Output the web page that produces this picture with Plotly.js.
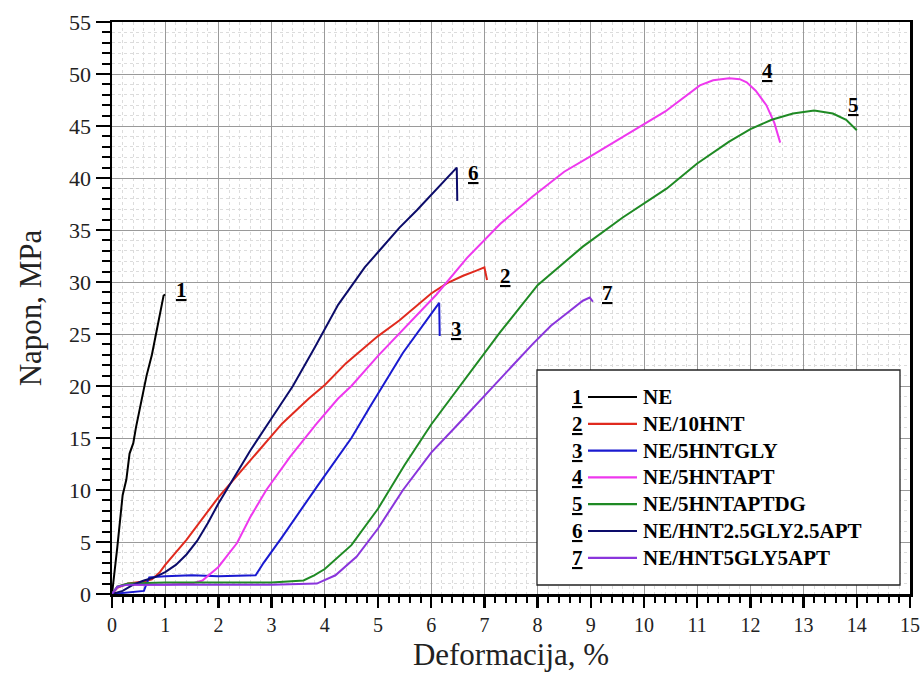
<!DOCTYPE html>
<html>
<head>
<meta charset="utf-8">
<script src="https://cdn.plot.ly/plotly-3.0.1.min.js"></script>
<style>html,body{margin:0;padding:0;background:#fff;}#chart{width:924px;height:677px;}</style>
</head>
<body>
<div id="chart"></div>
<script>
// ---- Data (strain %, stress MPa) ----
const names = ["NE", "NE/10HNT", "NE/5HNTGLY", "NE/5HNTAPT", "NE/5HNTAPTDG", "NE/HNT2.5GLY2.5APT", "NE/HNT5GLY5APT"];
const numbers = ["1", "2", "3", "4", "5", "6", "7"];
const colors = ["#000000", "#e02a1e", "#1a1ad0", "#ee38ee", "#1f8a24", "#0c0c6a", "#8a35dc"];

const ne_x = [0, 0.05, 0.1, 0.15, 0.2, 0.27, 0.33, 0.4, 0.45, 0.55, 0.65, 0.75, 0.85, 0.92, 0.97, 1.0];
const ne_y = [0, 2, 4.5, 7, 9.5, 11, 13.5, 14.5, 16, 18.5, 21, 23, 25.5, 27.5, 28.7, 28.8];

const hnt10_x = [0, 0.1, 0.3, 0.6, 0.75, 0.9, 1.0, 1.4, 2.0, 2.6, 3.2, 3.7, 4.0, 4.4, 4.7, 5.0, 5.4, 5.7, 6.0, 6.3, 6.6, 6.85, 7.0, 7.05];
const hnt10_y = [0, 0.6, 1.0, 1.2, 1.4, 2.1, 2.8, 5.2, 9.3, 12.9, 16.4, 18.8, 20.1, 22.2, 23.5, 24.8, 26.3, 27.6, 28.9, 29.9, 30.6, 31.1, 31.4, 30.2];

const gly_x = [0, 0.2, 0.4, 0.6, 0.65, 0.7, 1.0, 1.5, 2.0, 2.5, 2.7, 2.85, 3.2, 3.85, 4.5, 4.85, 5.47, 6.15, 6.16];
const gly_y = [0, 0.1, 0.2, 0.3, 1.0, 1.6, 1.7, 1.8, 1.7, 1.8, 1.8, 3.0, 5.5, 10.3, 15.0, 18.0, 23.2, 28.0, 24.8];

const apt_x = [0, 0.1, 0.2, 0.5, 1.0, 1.5, 1.7, 2.0, 2.35, 2.6, 2.9, 3.35, 3.85, 4.25, 4.5, 5.0, 5.5, 6.1, 6.67, 7.3, 7.9, 8.5, 9.0, 9.8, 10.4, 11.05, 11.3, 11.6, 11.8, 11.93, 12.1, 12.3, 12.45, 12.56];
const apt_y = [0, 0.6, 0.9, 0.9, 0.9, 1.0, 1.3, 2.6, 4.9, 7.4, 10.0, 13.2, 16.4, 18.8, 20.0, 22.9, 25.6, 28.8, 32.3, 35.6, 38.2, 40.6, 42.1, 44.6, 46.4, 48.9, 49.4, 49.6, 49.5, 49.2, 48.4, 47.0, 45.3, 43.4];

const aptdg_x = [0, 0.1, 0.3, 1.0, 2.0, 3.0, 3.6, 3.8, 4.0, 4.5, 5.0, 5.5, 6.0, 6.35, 6.7, 7.3, 8.0, 8.85, 9.6, 10.1, 10.43, 11.0, 11.6, 12.0, 12.4, 12.8, 13.2, 13.55, 13.8, 14.0];
const aptdg_y = [0, 0.7, 1.0, 1.1, 1.1, 1.1, 1.3, 1.8, 2.4, 4.7, 8.2, 12.4, 16.3, 18.7, 21.0, 25.2, 29.7, 33.4, 36.2, 37.9, 39.0, 41.4, 43.5, 44.7, 45.6, 46.2, 46.5, 46.2, 45.6, 44.6];

const gly25_x = [0, 0.2, 0.4, 0.6, 0.8, 1.0, 1.2, 1.4, 1.6, 1.8, 2.0, 2.2, 2.6, 3.0, 3.4, 3.8, 4.04, 4.25, 4.5, 4.75, 5.04, 5.4, 5.73, 6.03, 6.3, 6.48, 6.49];
const gly25_y = [0, 0.3, 0.9, 1.3, 1.6, 2.1, 2.8, 3.8, 5.1, 6.8, 8.7, 10.4, 13.8, 16.9, 20.0, 23.6, 25.8, 27.8, 29.6, 31.4, 33.1, 35.2, 36.9, 38.5, 40.0, 41.0, 37.8];

const gly5_x = [0, 0.1, 0.3, 1.0, 2.0, 3.0, 3.85, 4.2, 4.6, 5.0, 5.47, 6.0, 6.5, 7.0, 7.5, 7.92, 8.25, 8.55, 8.85, 8.98, 9.04];
const gly5_y = [0, 0.7, 0.9, 0.9, 0.9, 0.9, 1.0, 1.8, 3.6, 6.3, 10.0, 13.6, 16.3, 19.0, 21.8, 24.1, 25.8, 27.0, 28.2, 28.5, 28.1];

const xs = [ne_x, hnt10_x, gly_x, apt_x, aptdg_x, gly25_x, gly5_x];
const ys = [ne_y, hnt10_y, gly_y, apt_y, aptdg_y, gly25_y, gly5_y];

// curve label anchor points (layout, not data)
const labelX = [1.3, 7.39, 6.48, 12.33, 13.93, 6.8, 9.32];
const labelY = [29.2, 30.6, 25.5, 50.3, 47.0, 40.5, 28.9];

const xTicks = [0,1,2,3,4,5,6,7,8,9,10,11,12,13,14,15];
const yTicks = [0,5,10,15,20,25,30,35,40,45,50,55];

const serif = "Liberation Serif";

const traces = names.map((n, i) => ({
  type: "scatter", mode: "lines", name: n,
  x: xs[i], y: ys[i],
  line: {color: colors[i], width: 2},
  showlegend: false, hoverinfo: "skip"
}));

const annotations = numbers.map((s, i) => ({
  x: labelX[i], y: labelY[i], xref: "x", yref: "y",
  text: "<b><u>" + s + "</u></b>", showarrow: false,
  xanchor: "center", yanchor: "middle",
  font: {family: serif, size: 21, color: "#000"}
}));

// custom legend (number, line sample, name)
const plotH = 572, plotW = 798;
const shapes = [{
  type: "rect", xref: "paper", yref: "paper", layer: "above",
  x0: (537-112)/plotW, x1: (900-112)/plotW, y0: (594-585)/plotH, y1: (594-370)/plotH,
  line: {color: "#222", width: 1.3}, fillcolor: "#ffffff"
}];
names.forEach((n, i) => {
  const py = 397 + i * 26.8;
  const yp = (594 - py) / plotH;
  shapes.push({type: "line", xref: "paper", yref: "paper", layer: "above",
    x0: (588-112)/plotW, x1: (637-112)/plotW, y0: yp, y1: yp,
    line: {color: colors[i], width: 2.2}});
  annotations.push({xref: "paper", yref: "paper", x: (577-112)/plotW, y: yp,
    text: "<b><u>" + numbers[i] + "</u></b>", showarrow: false, xanchor: "center", yanchor: "middle",
    font: {family: serif, size: 21, color: "#000"}});
  annotations.push({xref: "paper", yref: "paper", x: (641-112)/plotW, y: yp,
    text: "<b>" + n + "</b>", showarrow: false, xanchor: "left", yanchor: "middle",
    font: {family: serif, size: 21, color: "#000"}});
});

const axisCommon = {
  showline: true, linecolor: "#000", linewidth: 2.5, mirror: true,
  ticks: "outside", tickcolor: "#000", tickwidth: 2.5,
  showgrid: true, gridcolor: "#9a9a9a", gridwidth: 1,
  zeroline: false,
  fixedrange: true
};

const layout = {
  width: 924, height: 677,
  margin: {l: 112, r: 14, t: 22, b: 83},
  paper_bgcolor: "#fff", plot_bgcolor: "#fff",
  font: {family: serif, color: "#222"},
  showlegend: false,
  xaxis: Object.assign({}, axisCommon, {
    range: [0, 15], tickvals: xTicks, ticktext: xTicks.map(String), ticklen: 11,
    tickfont: {family: serif, size: 20, color: "#222"},
    minor: {dtick: 0.2, ticks: "outside", ticklen: 6, tickwidth: 2, tickcolor: "#000",
            showgrid: true, gridcolor: "#dcdcdc", griddash: "3px,3px", gridwidth: 1},
    title: {text: "Deformacija, %", font: {family: serif, size: 31, color: "#222"}, standoff: 9}
  }),
  yaxis: Object.assign({}, axisCommon, {
    range: [0, 55], tickvals: yTicks, ticktext: yTicks.map(String), ticklen: 14,
    tickfont: {family: serif, size: 22, color: "#222"},
    minor: {dtick: 1, ticks: "outside", ticklen: 8, tickwidth: 2, tickcolor: "#000",
            showgrid: true, gridcolor: "#dcdcdc", griddash: "3px,3px", gridwidth: 1},
    title: {text: "Napon, MPa", font: {family: serif, size: 31, color: "#222"}, standoff: 18}
  }),
  shapes: shapes,
  annotations: annotations
};

Plotly.newPlot("chart", traces, layout, {displayModeBar: false, staticPlot: true});
</script>
</body>
</html>
